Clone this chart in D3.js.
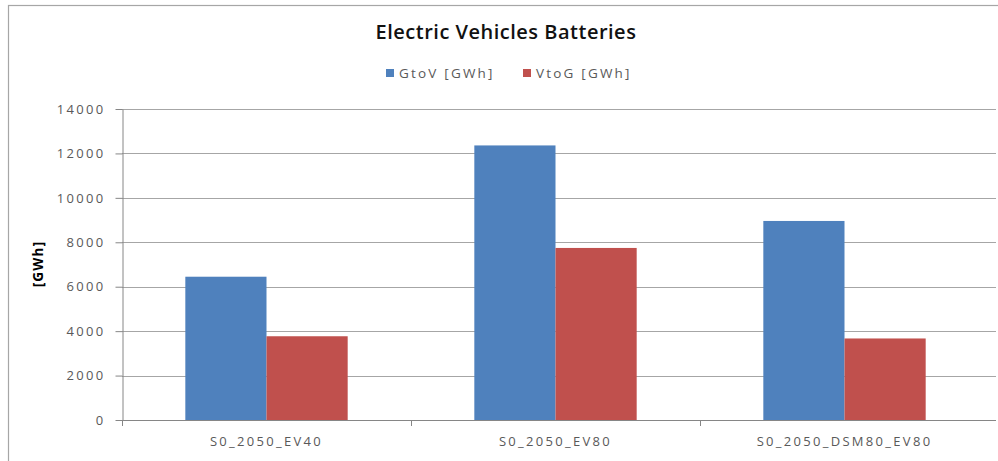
<!DOCTYPE html>
<html><head><meta charset="utf-8">
<script src="https://cdn.jsdelivr.net/npm/d3@7"></script>
<style>body{margin:0;background:#fff}svg{display:block}text{font-family:"Open Sans","Liberation Sans",sans-serif}</style>
</head><body><svg id="c" width="998" height="461"></svg>
<script>
const categories = ["S0_2050_EV40", "S0_2050_EV80", "S0_2050_DSM80_EV80"];
const seriesNames = ["GtoV [GWh]", "VtoG [GWh]"];
const gtoV = [6450, 12360, 8960];
const vtoG = [3770, 7745, 3670];
const yTicks = [0, 2000, 4000, 6000, 8000, 10000, 12000, 14000];
const colors = ["#4F81BD", "#C0504D"];

(function () {
const svg = d3.select("#c");
svg.append("rect").attr("x", 8.5).attr("y", 5.5).attr("width", 1000).attr("height", 470)
  .attr("fill", "#fff").attr("stroke", "#a6a6a6").attr("stroke-width", 1.2);

const pLeft = 122, pRight = 996, bandRight = 989, pTop = 109, pBottom = 420;
const x = d3.scaleBand().domain(categories).range([pLeft, bandRight]).padding(0);
const inner = d3.scaleBand().domain([0, 1]).range([0, x.bandwidth()]).paddingInner(0).paddingOuter(0.78);
const y = d3.scaleLinear().domain([0, 14000]).range([pBottom, pTop]);

// gridlines
svg.append("g").selectAll("line").data(yTicks.slice(1)).join("line")
  .attr("x1", pLeft).attr("x2", pRight)
  .attr("y1", d => Math.round(y(d)) + 0.5).attr("y2", d => Math.round(y(d)) + 0.5)
  .attr("stroke", "#a6a6a6").attr("stroke-width", 1);

// bars
const data = categories.map((c, i) => ({c, vals: [gtoV[i], vtoG[i]]}));
const g = svg.append("g").selectAll("g").data(data).join("g")
  .attr("transform", d => `translate(${x(d.c)},0)`);
g.selectAll("rect").data(d => d.vals.map((v, k) => ({v, k}))).join("rect")
  .attr("x", d => inner(d.k)).attr("width", inner.bandwidth())
  .attr("y", d => y(d.v)).attr("height", d => y(0) - y(d.v))
  .attr("fill", d => colors[d.k]);

// y axis
const ya = svg.append("g").attr("transform", `translate(${pLeft + 0.5},0)`)
  .call(d3.axisLeft(y).tickValues(yTicks).tickSize(7).tickSizeOuter(0).tickFormat(d3.format("d")));
ya.select(".domain").attr("stroke", "#868686");
ya.selectAll(".tick line").attr("stroke", "#868686");
ya.selectAll(".tick text").attr("font-size", 13).attr("letter-spacing", 2.3)
  .attr("fill", "#595959").attr("x", -17);

// x axis
const xa = svg.append("g").attr("transform", `translate(0,${pBottom + 0.5})`)
  .call(d3.axisBottom(x).tickSize(0).tickSizeOuter(0));
xa.select(".domain").attr("x2", pRight).attr("d", `M${pLeft},0H${pRight}`).attr("stroke", "#868686");
xa.selectAll(".tick text").attr("font-size", 13).attr("letter-spacing", 2.3)
  .attr("fill", "#595959").attr("dy", "1.75em");
svg.append("g").selectAll("line").data(categories).join("line")
  .attr("x1", (d, i) => Math.round(pLeft + i * x.step()) + 0.5)
  .attr("x2", (d, i) => Math.round(pLeft + i * x.step()) + 0.5)
  .attr("y1", pBottom).attr("y2", pBottom + 6).attr("stroke", "#868686");

// title
svg.append("text").attr("x", 506).attr("y", 39).attr("text-anchor", "middle")
  .attr("font-size", 20).attr("font-weight", 600).attr("letter-spacing", 0.5)
  .attr("fill", "#111").text("Electric Vehicles Batteries");

// legend
const legX = [386, 523];
const lg = svg.append("g").selectAll("g").data(seriesNames).join("g")
  .attr("transform", (d, i) => `translate(${legX[i]},73)`);
lg.append("rect").attr("x", 0).attr("y", -4).attr("width", 8).attr("height", 8).attr("fill", (d, i) => colors[i]);
lg.append("text").attr("x", 13).attr("y", 5).attr("font-size", 13.5).attr("letter-spacing", 2.2)
  .attr("fill", "#595959").text(d => d);

// y label
svg.append("text").attr("transform", "translate(43,264) rotate(-90)").attr("text-anchor", "middle")
  .attr("font-size", 13.5).attr("font-weight", "bold").attr("letter-spacing", 1.2)
  .attr("fill", "#000").text("[GWh]");
})();
</script></body></html>
